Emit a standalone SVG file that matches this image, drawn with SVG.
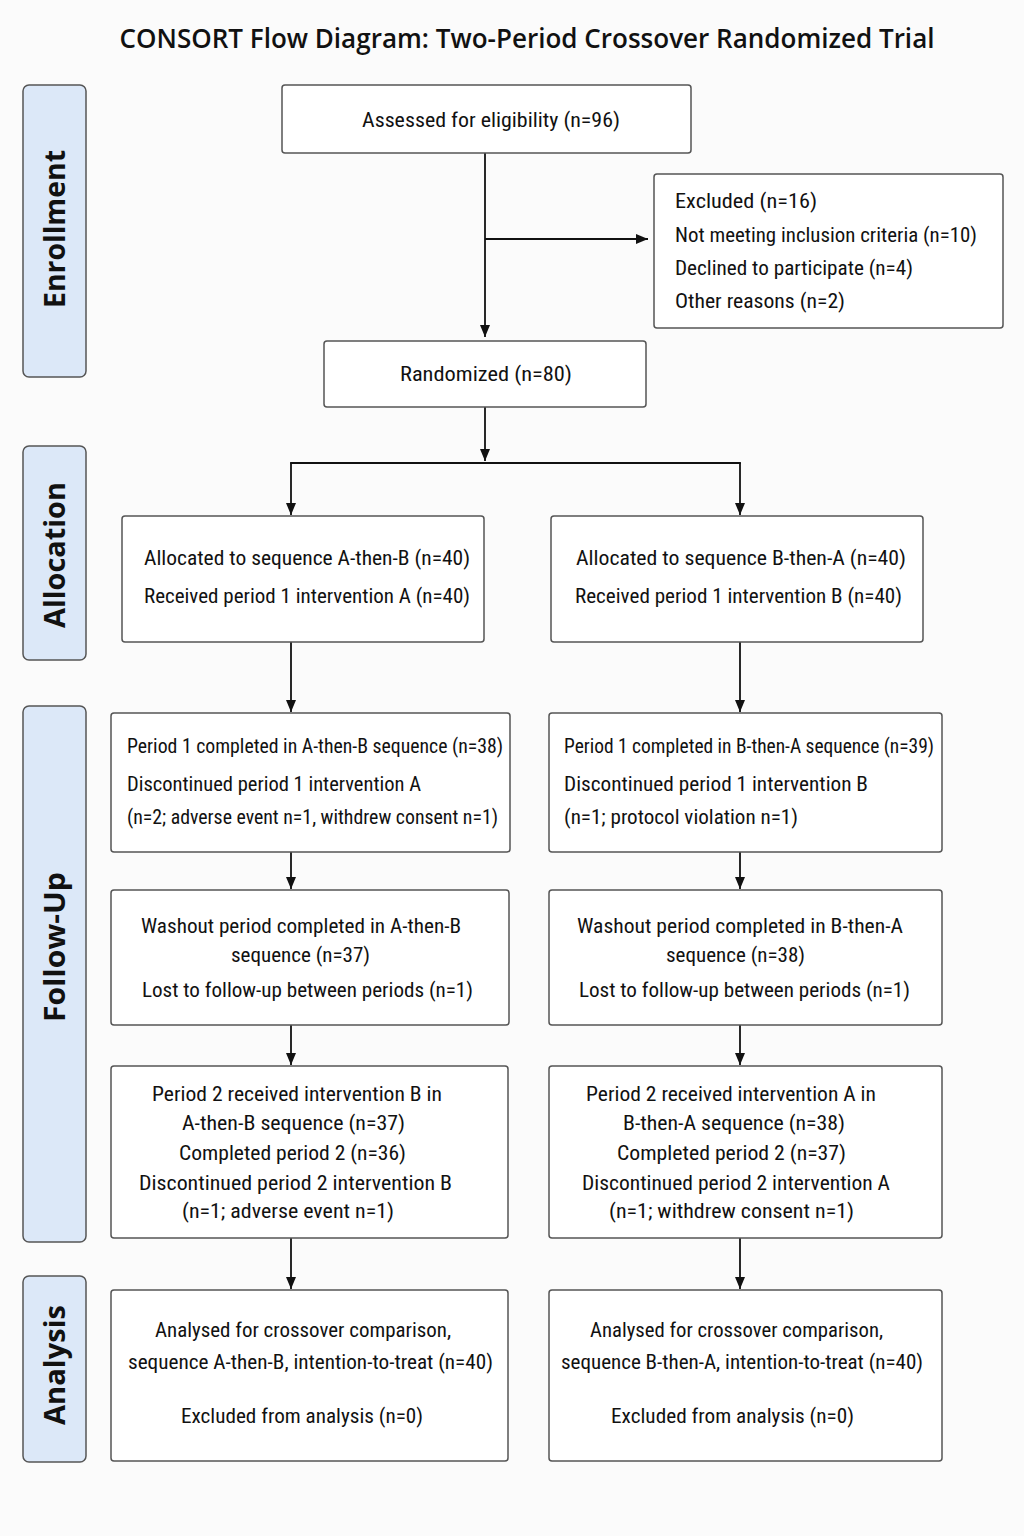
<svg xmlns="http://www.w3.org/2000/svg" width="1024" height="1536" viewBox="0 0 1024 1536">
<defs>
<style>
.bg{fill:#fbfbfb}
.box{fill:#ffffff;stroke:#555555;stroke-width:1.5}
.side{fill:#dce8f8;stroke:#555555;stroke-width:1.5}
.t{font-family:"Liberation Sans Narrow","Roboto Condensed","Lato","Noto Sans",sans-serif;font-size:21px;fill:#111111}
.title{font-family:"Open Sans","Noto Sans","Liberation Sans",sans-serif;font-size:27px;font-weight:600;fill:#111111;text-anchor:middle}
.sl{font-family:"Open Sans","Noto Sans","Liberation Sans",sans-serif;font-size:28px;font-weight:700;fill:#111111;text-anchor:middle}
.ln{fill:none;stroke:#111111;stroke-width:1.8}
</style>
<marker id="ah" viewBox="0 0 12 10" refX="12" refY="5" markerWidth="12" markerHeight="10" markerUnits="userSpaceOnUse" orient="auto">
<path d="M0,0 L12,5 L0,10 z" fill="#111111"/>
</marker>
</defs>
<rect class="bg" x="0" y="0" width="1024" height="1536"/>
<text class="title" x="527" y="48" textLength="815" lengthAdjust="spacingAndGlyphs">CONSORT Flow Diagram: Two-Period Crossover Randomized Trial</text>

<g id="stage-enrollment">
<rect class="side" x="23" y="85" width="63" height="292" rx="6"/>
<text class="sl" transform="translate(65,229) rotate(-90)" textLength="158" lengthAdjust="spacingAndGlyphs">Enrollment</text>
</g>
<g id="stage-allocation">
<rect class="side" x="23" y="446" width="63" height="214" rx="6"/>
<text class="sl" transform="translate(65,555) rotate(-90)" textLength="146" lengthAdjust="spacingAndGlyphs">Allocation</text>
</g>
<g id="stage-followup">
<rect class="side" x="23" y="706" width="63" height="536" rx="6"/>
<text class="sl" transform="translate(65,947) rotate(-90)" textLength="150" lengthAdjust="spacingAndGlyphs">Follow-Up</text>
</g>
<g id="stage-analysis">
<rect class="side" x="23" y="1276" width="63" height="186" rx="6"/>
<text class="sl" transform="translate(65,1365) rotate(-90)" textLength="120" lengthAdjust="spacingAndGlyphs">Analysis</text>
</g>

<g id="connectors">
<line class="ln" x1="485" y1="153" x2="485" y2="337" marker-end="url(#ah)"/>
<line class="ln" x1="485" y1="239" x2="648" y2="239" marker-end="url(#ah)"/>
<line class="ln" x1="485" y1="407" x2="485" y2="461" marker-end="url(#ah)"/>
<line class="ln" x1="290.1" y1="463" x2="740.9" y2="463"/>
<line class="ln" x1="291" y1="463" x2="291" y2="515" marker-end="url(#ah)"/>
<line class="ln" x1="740" y1="463" x2="740" y2="515" marker-end="url(#ah)"/>
<line class="ln" x1="291" y1="642" x2="291" y2="712" marker-end="url(#ah)"/>
<line class="ln" x1="740" y1="642" x2="740" y2="712" marker-end="url(#ah)"/>
<line class="ln" x1="291" y1="852" x2="291" y2="889" marker-end="url(#ah)"/>
<line class="ln" x1="740" y1="852" x2="740" y2="889" marker-end="url(#ah)"/>
<line class="ln" x1="291" y1="1025" x2="291" y2="1065" marker-end="url(#ah)"/>
<line class="ln" x1="740" y1="1025" x2="740" y2="1065" marker-end="url(#ah)"/>
<line class="ln" x1="291" y1="1238" x2="291" y2="1289" marker-end="url(#ah)"/>
<line class="ln" x1="740" y1="1238" x2="740" y2="1289" marker-end="url(#ah)"/>
</g>

<g id="assessed">
<rect class="box" x="282" y="85" width="409" height="68" rx="3"/>
<text class="t" x="362" y="127" textLength="258" lengthAdjust="spacingAndGlyphs">Assessed for eligibility (n=96)</text>
</g>
<g id="excluded">
<rect class="box" x="654" y="174" width="349" height="154" rx="3"/>
<text class="t" x="675" y="208" textLength="142" lengthAdjust="spacingAndGlyphs">Excluded (n=16)</text>
<text class="t" x="675" y="242" textLength="302" lengthAdjust="spacingAndGlyphs">Not meeting inclusion criteria (n=10)</text>
<text class="t" x="675" y="275" textLength="238" lengthAdjust="spacingAndGlyphs">Declined to participate (n=4)</text>
<text class="t" x="675" y="308" textLength="170" lengthAdjust="spacingAndGlyphs">Other reasons (n=2)</text>
</g>
<g id="randomized">
<rect class="box" x="324" y="341" width="322" height="66" rx="3"/>
<text class="t" x="400" y="381" textLength="172" lengthAdjust="spacingAndGlyphs">Randomized (n=80)</text>
</g>

<g id="alloc-ab">
<rect class="box" x="122" y="516" width="362" height="126" rx="3"/>
<text class="t" x="144" y="565" textLength="326" lengthAdjust="spacingAndGlyphs">Allocated to sequence A-then-B (n=40)</text>
<text class="t" x="144" y="603" textLength="326" lengthAdjust="spacingAndGlyphs">Received period 1 intervention A (n=40)</text>
</g>
<g id="alloc-ba">
<rect class="box" x="551" y="516" width="372" height="126" rx="3"/>
<text class="t" x="576" y="565" textLength="330" lengthAdjust="spacingAndGlyphs">Allocated to sequence B-then-A (n=40)</text>
<text class="t" x="575" y="603" textLength="327" lengthAdjust="spacingAndGlyphs">Received period 1 intervention B (n=40)</text>
</g>

<g id="p1-ab">
<rect class="box" x="111" y="713" width="399" height="139" rx="3"/>
<text class="t" x="127" y="753" textLength="376" lengthAdjust="spacingAndGlyphs">Period 1 completed in A-then-B sequence (n=38)</text>
<text class="t" x="127" y="791" textLength="294" lengthAdjust="spacingAndGlyphs">Discontinued period 1 intervention A</text>
<text class="t" x="127" y="824" textLength="371" lengthAdjust="spacingAndGlyphs">(n=2; adverse event n=1, withdrew consent n=1)</text>
</g>
<g id="p1-ba">
<rect class="box" x="549" y="713" width="393" height="139" rx="3"/>
<text class="t" x="564" y="753" textLength="370" lengthAdjust="spacingAndGlyphs">Period 1 completed in B-then-A sequence (n=39)</text>
<text class="t" x="564" y="791" textLength="304" lengthAdjust="spacingAndGlyphs">Discontinued period 1 intervention B</text>
<text class="t" x="564" y="824" textLength="234" lengthAdjust="spacingAndGlyphs">(n=1; protocol violation n=1)</text>
</g>

<g id="washout-ab">
<rect class="box" x="111" y="890" width="398" height="135" rx="3"/>
<text class="t" x="141" y="933" textLength="320" lengthAdjust="spacingAndGlyphs">Washout period completed in A-then-B</text>
<text class="t" x="231" y="962" textLength="139" lengthAdjust="spacingAndGlyphs">sequence (n=37)</text>
<text class="t" x="142" y="997" textLength="331" lengthAdjust="spacingAndGlyphs">Lost to follow-up between periods (n=1)</text>
</g>
<g id="washout-ba">
<rect class="box" x="549" y="890" width="393" height="135" rx="3"/>
<text class="t" x="577" y="933" textLength="326" lengthAdjust="spacingAndGlyphs">Washout period completed in B-then-A</text>
<text class="t" x="666" y="962" textLength="139" lengthAdjust="spacingAndGlyphs">sequence (n=38)</text>
<text class="t" x="579" y="997" textLength="331" lengthAdjust="spacingAndGlyphs">Lost to follow-up between periods (n=1)</text>
</g>

<g id="p2-ab">
<rect class="box" x="111" y="1066" width="397" height="172" rx="3"/>
<text class="t" x="152" y="1101" textLength="290" lengthAdjust="spacingAndGlyphs">Period 2 received intervention B in</text>
<text class="t" x="182" y="1130" textLength="223" lengthAdjust="spacingAndGlyphs">A-then-B sequence (n=37)</text>
<text class="t" x="179" y="1160" textLength="227" lengthAdjust="spacingAndGlyphs">Completed period 2 (n=36)</text>
<text class="t" x="139" y="1190" textLength="313" lengthAdjust="spacingAndGlyphs">Discontinued period 2 intervention B</text>
<text class="t" x="182" y="1218" textLength="212" lengthAdjust="spacingAndGlyphs">(n=1; adverse event n=1)</text>
</g>
<g id="p2-ba">
<rect class="box" x="549" y="1066" width="393" height="172" rx="3"/>
<text class="t" x="586" y="1101" textLength="290" lengthAdjust="spacingAndGlyphs">Period 2 received intervention A in</text>
<text class="t" x="623" y="1130" textLength="222" lengthAdjust="spacingAndGlyphs">B-then-A sequence (n=38)</text>
<text class="t" x="617" y="1160" textLength="229" lengthAdjust="spacingAndGlyphs">Completed period 2 (n=37)</text>
<text class="t" x="582" y="1190" textLength="308" lengthAdjust="spacingAndGlyphs">Discontinued period 2 intervention A</text>
<text class="t" x="609" y="1218" textLength="245" lengthAdjust="spacingAndGlyphs">(n=1; withdrew consent n=1)</text>
</g>

<g id="analysis-ab">
<rect class="box" x="111" y="1290" width="397" height="171" rx="3"/>
<text class="t" x="155" y="1337" textLength="296" lengthAdjust="spacingAndGlyphs">Analysed for crossover comparison,</text>
<text class="t" x="128" y="1369" textLength="365" lengthAdjust="spacingAndGlyphs">sequence A-then-B, intention-to-treat (n=40)</text>
<text class="t" x="181" y="1423" textLength="242" lengthAdjust="spacingAndGlyphs">Excluded from analysis (n=0)</text>
</g>
<g id="analysis-ba">
<rect class="box" x="549" y="1290" width="393" height="171" rx="3"/>
<text class="t" x="590" y="1337" textLength="293" lengthAdjust="spacingAndGlyphs">Analysed for crossover comparison,</text>
<text class="t" x="561" y="1369" textLength="362" lengthAdjust="spacingAndGlyphs">sequence B-then-A, intention-to-treat (n=40)</text>
<text class="t" x="611" y="1423" textLength="243" lengthAdjust="spacingAndGlyphs">Excluded from analysis (n=0)</text>
</g>
</svg>
